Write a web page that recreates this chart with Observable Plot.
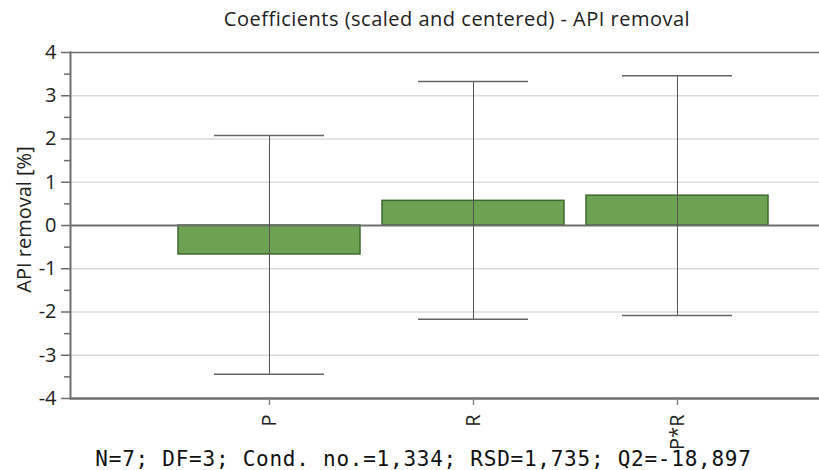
<!DOCTYPE html>
<html>
<head>
<meta charset="utf-8">
<script src="https://cdn.jsdelivr.net/npm/d3@7"></script>
<script src="https://cdn.jsdelivr.net/npm/@observablehq/plot@0.6"></script>
<style>
  html, body { margin: 0; padding: 0; background: white; }
  #chart { width: 819px; height: 470px; overflow: hidden; font-family: "Open Sans", "Noto Sans", sans-serif; }
  .title { height: 32px; box-sizing: border-box; padding-top: 6px; padding-left: 95px; text-align: center; font-size: 20px; letter-spacing: 0.5px; color: #222; line-height: 26px; }
  .caption { height: 22px; padding-left: 28px; text-align: center; font-family: "DejaVu Sans Mono", monospace; font-size: 21px; letter-spacing: 0.75px; line-height: 22px; color: #111; white-space: pre; }
  svg { overflow: visible; }
</style>
</head>
<body>
<div id="chart"></div>
<script>
const terms = ["P", "R", "P*R"];
const coef = [-0.67, 0.57, 0.69];
const ciLow = [-3.44, -2.17, -2.08];
const ciHigh = [2.08, 3.33, 3.46];
const yTicks = [-4, -3, -2, -1, 0, 1, 2, 3, 4];
const yMinorTicks = [-3.5, -2.5, -1.5, -0.5, 0.5, 1.5, 2.5, 3.5];
const gridValues = [-3, -2, -1, 1, 2, 3];
const titleText = "Coefficients (scaled and centered) - API removal";
const yLabel = "API removal [%]";
const captionText = "N=7; DF=3; Cond. no.=1,334; RSD=1,735; Q2=-18,897";

const data = terms.map((t, i) => ({term: t, coef: coef[i], lo: ciLow[i], hi: ciHigh[i]}));

const plot = Plot.plot({
  width: 819,
  height: 416,
  marginTop: 20,
  marginLeft: 70,
  marginRight: 0,
  marginBottom: 50,
  style: {fontFamily: "'Open Sans', 'Noto Sans', sans-serif", background: "white", color: "#222", overflow: "visible"},
  x: {type: "band", domain: terms, range: [70, 875], paddingInner: 0.11, paddingOuter: 0.523, align: 0.5},
  y: {domain: [-4, 4]},
  marks: [
    Plot.ruleY(gridValues, {stroke: "#dcdcdc", strokeWidth: 1.5}),
    Plot.barY(data, {x: "term", y1: 0, y2: "coef", fill: "#6da252", stroke: "#3e6a2f", strokeWidth: 1.5}),
    Plot.ruleY([0], {stroke: "#6e6e6e", strokeWidth: 2}),
    Plot.ruleY([4], {stroke: "#6e6e6e", strokeWidth: 1.5}),
    Plot.ruleY([-4], {stroke: "#6e6e6e", strokeWidth: 2.5}),
    Plot.ruleX(data, {x: "term", y1: "lo", y2: "hi", stroke: "#555", strokeWidth: 1}),
    Plot.tickY(data, {x: "term", y: "lo", stroke: "#666", strokeWidth: 1.5, insetLeft: 36, insetRight: 36}),
    Plot.tickY(data, {x: "term", y: "hi", stroke: "#666", strokeWidth: 1.5, insetLeft: 36, insetRight: 36}),
    Plot.frame({anchor: "left", stroke: "#6e6e6e", strokeWidth: 2}),
    Plot.axisY({ticks: yTicks, tickSize: 9, tickPadding: 5, fontSize: 20, tickFormat: d => String(d), stroke: "#6e6e6e", strokeWidth: 1.5, label: null}),
    Plot.axisY({ticks: yMinorTicks, tickSize: 6, tickFormat: null, text: null, stroke: "#6e6e6e", strokeWidth: 1.5, label: null}),
    Plot.text([yLabel], {frameAnchor: "left", textAnchor: "middle", rotate: -90, dx: -46, dy: -6, fontSize: 20, fill: "#222"}),
    Plot.axisX({tickRotate: -90, tickSize: 7, tickPadding: 9, fontSize: 20, stroke: "#888", strokeWidth: 1.5, label: null})
  ]
});

const root = document.getElementById("chart");
const t = document.createElement("div");
t.className = "title";
t.textContent = titleText;
root.appendChild(t);
root.appendChild(plot);
const c = document.createElement("div");
c.className = "caption";
c.textContent = captionText;
root.appendChild(c);
</script>
</body>
</html>
